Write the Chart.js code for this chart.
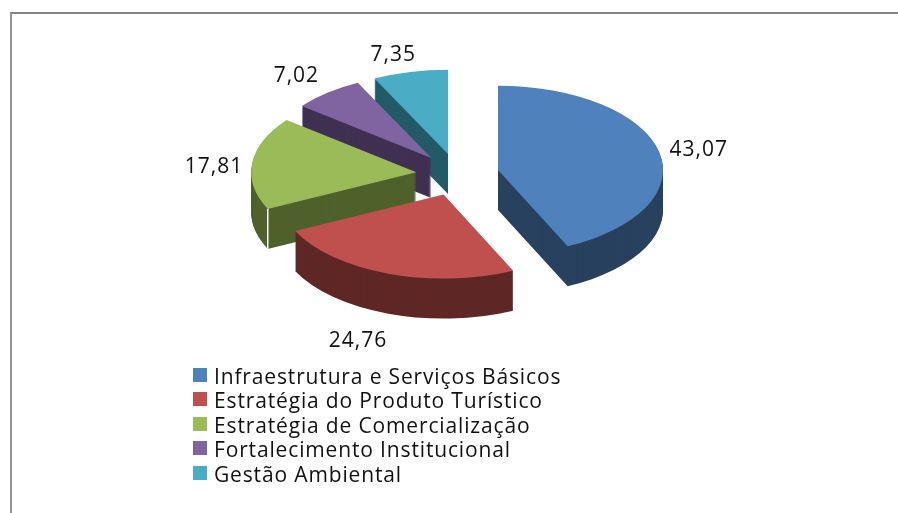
<!DOCTYPE html>
<html lang="pt">
<head>
<meta charset="utf-8">
<title>Distribuição por componente</title>
<script src="https://cdn.jsdelivr.net/npm/chart.js@4/dist/chart.umd.min.js"></script>
<style>
    html, body { margin: 0; padding: 0; background: #fff; }
    #wrap { position: relative; width: 898px; height: 513px; overflow: hidden; }
    #frame { position: absolute; left: 10px; top: 12px; width: 900px; height: 520px; border-top: 2px solid #858585; border-left: 2px solid #969696; }
    canvas { position: absolute; left: 0; top: 0; }
    #legend { position: absolute; left: 193px; top: 363.5px; font: 21px "Open Sans", sans-serif; color: #111; letter-spacing: 0.85px; }
    #legend div { position: relative; height: 24.5px; line-height: 24px; padding-left: 21px; white-space: nowrap; }
    #legend i { position: absolute; left: 0; top: 4px; width: 14px; height: 14px; }
</style>
</head>
<body>
<div id="wrap">
    <div id="frame"></div>
    <canvas id="pie" width="898" height="513"></canvas>
    <div id="legend"></div>
</div>
<script>
const categories = [
    "Infraestrutura e Serviços Básicos",
    "Estratégia do Produto Turístico",
    "Estratégia de Comercialização",
    "Fortalecimento Institucional",
    "Gestão Ambiental"
];
const values = [43.07, 24.76, 17.81, 7.02, 7.35];
const topColors = ["#4f81bd", "#c0504d", "#9bbb59", "#8064a2", "#4bacc6"];
const wallColors = ["#28415f", "#5f2725", "#4f612c", "#403152", "#235a68"];

const SQUASH = 0.51;
const DEPTH = 40;
const EXPLODE = 41.5;
// back slices get painted first
const paintOrder = [4, 3, 2, 0, 1];
const labelDist = 246;
const labelNudge = [[1, 2.5], [-17, 51], [1, 5.5], [-6, -3], [-8, 0]];

const fakePie3d = {
    id: "fakePie3d",
    beforeDatasetDraw(chart, args) {
        const ctx = chart.ctx;
        const arcs = args.meta.data;
        const cx = arcs[0].x, cy = arcs[0].y;

        paintOrder.forEach(i => {
            const arc = arcs[i];
            const topOptions = arc.options;
            const mid = (arc.startAngle + arc.endAngle) / 2;
            const place = drop => {
                ctx.translate(0, drop);
                ctx.translate(cx, cy);
                ctx.scale(1, SQUASH);
                ctx.translate(-cx, -cy);
                // the option "offset" changes the slice radius, so explode by hand
                ctx.translate(Math.cos(mid) * EXPLODE, Math.sin(mid) * EXPLODE);
            };

            // side wall: same arc stacked downwards
            arc.options = Object.assign({}, topOptions, { backgroundColor: wallColors[i], borderColor: wallColors[i] });
            for (let d = DEPTH; d > 0; d--) {
                ctx.save();
                place(d);
                arc.draw(ctx);
                ctx.restore();
            }
            arc.options = topOptions;
            ctx.save();
            place(0);
            arc.draw(ctx);
            ctx.restore();

            // thin light seam on the green slice corner
            if (i === 2) {
                const px = cx + Math.cos(mid) * EXPLODE + Math.cos(arc.startAngle) * arc.outerRadius;
                const py = cy + (Math.sin(mid) * EXPLODE + Math.sin(arc.startAngle) * arc.outerRadius) * SQUASH;
                ctx.save();
                ctx.strokeStyle = "#ffffff";
                ctx.lineWidth = 1.5;
                ctx.beginPath();
                ctx.moveTo(px, py);
                ctx.lineTo(px, py + DEPTH);
                ctx.stroke();
                ctx.restore();
            }
        });
        return false;
    },
    afterDatasetsDraw(chart) {
        const ctx = chart.ctx;
        const arcs = chart.getDatasetMeta(0).data;
        ctx.save();
        ctx.font = '21px "Open Sans", sans-serif';
        ctx.fillStyle = "#111";
        ctx.textAlign = "center";
        ctx.textBaseline = "middle";
        if ("letterSpacing" in ctx) ctx.letterSpacing = "1px";
        arcs.forEach((arc, i) => {
            const mid = (arc.startAngle + arc.endAngle) / 2;
            const x = arc.x + Math.cos(mid) * labelDist + labelNudge[i][0];
            const y = arc.y + Math.sin(mid) * labelDist * 0.5 + labelNudge[i][1];
            ctx.fillText(values[i].toFixed(2).replace(".", ","), x, y);
        });
        ctx.restore();
    }
};

new Chart(document.getElementById("pie"), {
    type: "pie",
    data: {
        labels: categories,
        datasets: [{
            data: values,
            backgroundColor: topColors,
            borderWidth: 0
        }]
    },
    options: {
        responsive: false,
        animation: false,
        radius: 165,
        layout: { padding: { left: 17, bottom: 164 } },
        plugins: {
            legend: { display: false },
            tooltip: { enabled: false }
        }
    },
    plugins: [fakePie3d]
});

// legend below the pie
document.getElementById("legend").innerHTML = categories.map((name, i) =>
    `<div><i style="background:${topColors[i]}"></i>${name}</div>`
).join("");
</script>
</body>
</html>
